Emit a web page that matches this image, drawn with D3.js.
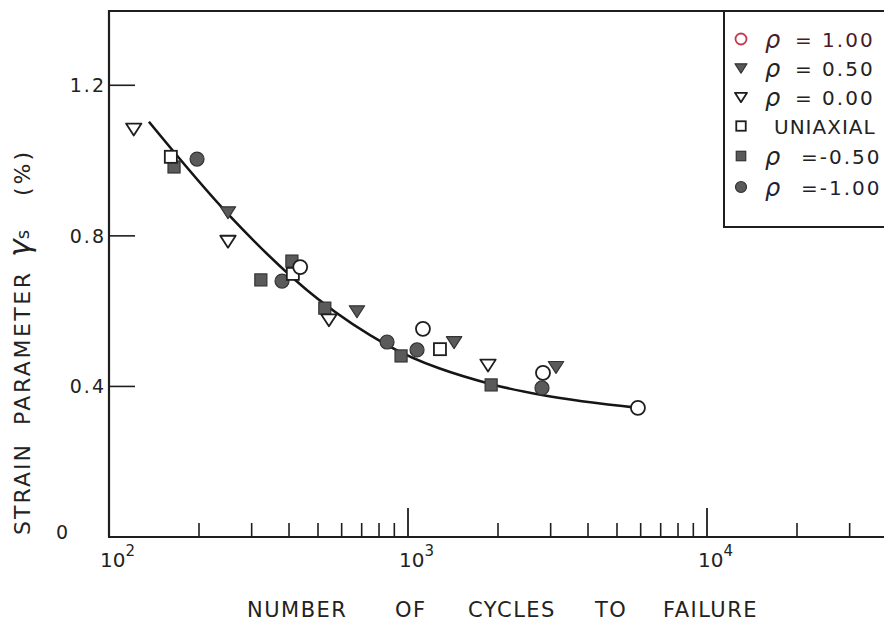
<!DOCTYPE html>
<html><head><meta charset="utf-8">
<script src="https://cdn.jsdelivr.net/npm/d3@7"></script>
<style>
html,body{margin:0;padding:0;background:#fff;}
svg{display:block;}
text{font-family:"DejaVu Sans",sans-serif;fill:#222;}
</style></head>
<body><svg id="c" width="884" height="629"></svg>
<script>
// ---- data (N cycles, strain %) ----
const rhoP100 = [[436,0.717],[1122,0.553],[2828,0.436],[5875,0.343]];
const rhoP050 = [[250,0.863],[675,0.600],[1426,0.518],[3126,0.452]];
const rhoP000 = [[121,1.084],[250,0.786],[544,0.577],[1852,0.457]];
const uniaxial = [[161,1.010],[412,0.699],[1279,0.499]];
const rhoM050 = [[165,0.983],[322,0.683],[409,0.733],[527,0.608],[948,0.481],[1897,0.404]];
const rhoM100 = [[197,1.004],[379,0.680],[851,0.518],[1072,0.497],[2806,0.396]];
const fitCurve = [[136,1.103],[252,0.855],[500,0.632],[851,0.510],[1897,0.406],[2806,0.377],[5875,0.343]];
const legendLabels = ["= 1.00","= 0.50","= 0.00","UNIAXIAL","=-0.50","=-1.00"];
const yTicks = [0.4,0.8,1.2];
const yTickLabels = ["0.4","0.8","1.2"];
const xMajor = [1e2,1e3,1e4];
const xMajorExp = ["2","3","4"];
const xMinor = [200,300,400,500,600,700,800,900,2000,3000,4000,5000,6000,7000,8000,9000,20000,30000];
const xTitleWords = ["NUMBER","OF","CYCLES","TO","FAILURE"];

const svg = d3.select("#c");
const x = d3.scaleLog().domain([100, Math.pow(10,4.7)]).range([109, 109+2.7*299]);
const y = d3.scaleLinear().domain([0,1.4]).range([537,10]);
const ink = "#1e1e1e";

// frame
svg.append("line").attr("x1",x(100)).attr("x2",884).attr("y1",y(1.4)+1).attr("y2",y(1.4)+1).attr("stroke",ink).attr("stroke-width",2);
svg.append("line").attr("x1",x(100)).attr("x2",x(100)).attr("y1",y(1.4)).attr("y2",y(0)).attr("stroke",ink).attr("stroke-width",2.2);
svg.append("line").attr("x1",x(100)-1).attr("x2",884).attr("y1",y(0)).attr("y2",y(0)).attr("stroke",ink).attr("stroke-width",2.2);

// y ticks (inward)
svg.selectAll(".yt").data(yTicks).enter().append("line")
  .attr("x1",x(100)).attr("x2",x(100)+26).attr("y1",d=>y(d)).attr("y2",d=>y(d))
  .attr("stroke",ink).attr("stroke-width",1.6);
svg.selectAll(".ytl").data(yTicks).enter().append("text")
  .attr("x",106).attr("y",d=>y(d)+7).attr("text-anchor","end")
  .attr("font-size",19).attr("letter-spacing",2).text((d,i)=>yTickLabels[i]);
svg.append("text").attr("x",62).attr("y",y(0)+2).attr("text-anchor","middle").attr("font-size",19).text("0");

// x ticks (upward)
svg.selectAll(".xm").data(xMajor.slice(1)).enter().append("line")
  .attr("x1",d=>x(d)).attr("x2",d=>x(d)).attr("y1",y(0)).attr("y2",y(0)-29)
  .attr("stroke",ink).attr("stroke-width",1.8);
svg.selectAll(".xn").data(xMinor).enter().append("line")
  .attr("x1",d=>x(d)).attr("x2",d=>x(d)).attr("y1",y(0)).attr("y2",y(0)-14)
  .attr("stroke",ink).attr("stroke-width",1.6);
const xl = svg.selectAll(".xl").data(xMajor).enter().append("text")
  .attr("x",d=>x(d)-9).attr("y",y(0)+30).attr("font-size",20);
xl.append("tspan").text("10");
xl.append("tspan").attr("dy",-11).attr("font-size",15).text((d,i)=>xMajorExp[i]);

// axis titles
const xStart = [247,395,468,595,663];
const xt = svg.append("text").attr("y",617).attr("font-size",21).attr("letter-spacing",1.5);
xTitleWords.forEach((w,i)=>{
  xt.append("tspan").attr("x",xStart[i]).text(w);
});
const yt = svg.append("text").attr("transform","translate(30,0) rotate(-90)").attr("font-size",22);
yt.append("tspan").attr("x",-535).attr("textLength",90).attr("lengthAdjust","spacing").text("STRAIN");
yt.append("tspan").attr("x",-425).attr("textLength",152).attr("lengthAdjust","spacing").text("PARAMETER");
yt.append("tspan").attr("x",-257).attr("font-size",30).attr("font-style","italic").text("γ");
yt.append("tspan").attr("font-size",18).attr("dy",-1).text("s");
yt.append("tspan").attr("x",-196).attr("dy",1).attr("letter-spacing",3).text("(%)");

// curve
const line = d3.line().x(d=>x(d[0])).y(d=>y(d[1])).curve(d3.curveMonotoneX);
svg.append("path").datum(fitCurve).attr("d",line).attr("fill","none").attr("stroke","#151515").attr("stroke-width",2.6);

// markers
const fillGray = "#5a5a5a";
function marker(g, type, s, openStroke){
  if(type==="circle"){
    g.append("circle").attr("r",s*0.5).attr("fill","#fff").attr("stroke",openStroke||ink).attr("stroke-width",1.8);
  } else if(type==="fcircle"){
    g.append("circle").attr("r",s*0.5).attr("fill",fillGray).attr("stroke","#333").attr("stroke-width",1.2);
  } else if(type==="ftri"||type==="tri"){
    const h=s*0.85, w=s*0.55;
    g.append("path").attr("d",`M${-w},${-h*0.45}L${w},${-h*0.45}L0,${h*0.55}Z`)
      .attr("fill",type==="ftri"?fillGray:"#fff").attr("stroke",type==="ftri"?"#333":ink).attr("stroke-width",type==="ftri"?1.2:1.8).attr("stroke-linejoin","round");
  } else if(type==="sq"||type==="fsq"){
    const a=s*0.43;
    g.append("rect").attr("x",-a).attr("y",-a).attr("width",2*a).attr("height",2*a)
      .attr("fill",type==="fsq"?fillGray:"#fff").attr("stroke",type==="fsq"?"#333":ink).attr("stroke-width",type==="fsq"?1.2:1.8);
  }
}
const series = [
  {data:rhoM050,type:"fsq"},
  {data:rhoM100,type:"fcircle"},
  {data:rhoP050,type:"ftri"},
  {data:rhoP000,type:"tri"},
  {data:uniaxial,type:"sq"},
  {data:rhoP100,type:"circle"}
];
series.forEach(sr=>{
  sr.data.forEach(d=>{
    const g = svg.append("g").attr("transform",`translate(${x(d[0])},${y(d[1])})`);
    marker(g, sr.type, 14);
  });
});

// legend
const lg = svg.append("g");
lg.append("path").attr("d",`M724,${y(1.4)+1}L724,227L890,227`).attr("fill","none").attr("stroke",ink).attr("stroke-width",2);
const legTypes = ["circle","ftri","tri","sq","fsq","fcircle"];
const rowY = [39,68,97,126,156,187];
const txtCol = ["#4a1a26","#222","#222","#222","#222","#1e1e3a"];
legTypes.forEach((t,i)=>{
  const g = lg.append("g").attr("transform",`translate(741,${rowY[i]})`);
  marker(g,t,11, i===0?"#c23a4c":null);
  if(i===3){
    lg.append("text").attr("y",rowY[i]+8).attr("font-size",20).style("fill",txtCol[i])
      .attr("x",774).attr("letter-spacing",1).text(legendLabels[i]);
  } else {
    lg.append("text").attr("x",765).attr("y",rowY[i]+9).attr("font-size",24)
      .attr("font-style","italic").style("fill",txtCol[i]).text("ρ");
    lg.append("text").attr("x", i>=4?801:795).attr("y",rowY[i]+8).attr("font-size",20)
      .attr("letter-spacing",2).style("fill",txtCol[i]).text(legendLabels[i]);
  }
});
</script></body></html>
